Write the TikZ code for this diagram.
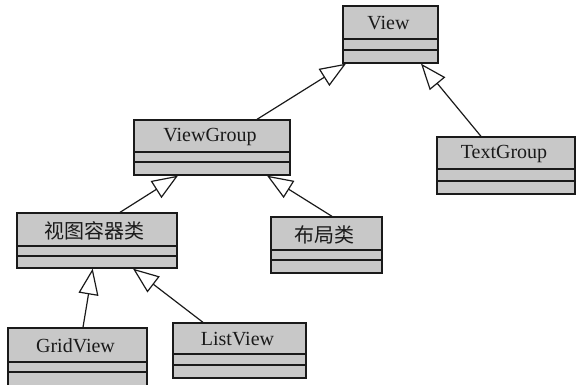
\documentclass[tikz,border=0pt]{standalone}
\usepackage{fontspec}
\setmainfont{Liberation Serif}
\newfontfamily\cjk{Noto Sans CJK SC}
\usetikzlibrary{arrows.meta,fit}
\definecolor{boxgray}{HTML}{C8C8C8}
\definecolor{ink}{HTML}{1A1A1A}
\tikzset{
  clsbox/.style={draw=ink, fill=boxgray, line width=1.3pt, inner sep=0pt, rectangle},
  sepline/.style={draw=ink, line width=1.3pt},
  clstitle/.style={font=\fontsize{20}{23}\selectfont, text=ink, inner sep=0pt},
  inherit/.style={draw=ink, line width=1.2pt, -{Triangle[open, length=26pt, width=20pt, line width=1.2pt]}}
}
% name, x1, y1, x2, y2, ya, yb, text
\newcommand{\umlcls}[8]{%
  \node[clsbox, fit={(#2,#3) (#4,#5)}] (#1) {};
  \node[clstitle] (#1-t) at ({(#2+#4)/2-2},{(#3+#6)/2+1}) {#8};
  \draw[sepline] (#2,#6) -- (#4,#6);
  \draw[sepline] (#2,#7) -- (#4,#7);
}
\begin{document}
\begin{tikzpicture}[x=1pt,y=-1pt]
\useasboundingbox (0,0) rectangle (576,384);
\umlcls{view}{343}{6}{438}{63}{39}{50}{View}
\umlcls{viewgroup}{134}{120}{290}{175}{152}{162}{ViewGroup}
\umlcls{textgroup}{437}{137}{575}{194}{169}{181}{TextGroup}
\umlcls{container}{17}{213}{177}{268}{246}{256}{\cjk 视图容器类}
\umlcls{layout}{271}{217}{382}{273}{250}{260}{\cjk 布局类}
\umlcls{gridview}{8}{328}{147}{388}{362}{372}{GridView}
\umlcls{listview}{173}{323}{306}{378}{354}{365}{ListView}
\draw[inherit] ([xshift=45pt]viewgroup.north) -- ([xshift=-44.5pt]view.south);
\draw[inherit] ([xshift=-25pt]textgroup.north) -- ([xshift=30.5pt]view.south);
\draw[inherit] ([xshift=23pt]container.north) -- ([xshift=-34pt]viewgroup.south);
\draw[inherit] ([xshift=5.5pt]layout.north) -- ([xshift=55pt]viewgroup.south);
\draw[inherit] ([xshift=5.5pt]gridview.north) -- ([xshift=-4.3pt]container.south);
\draw[inherit] ([xshift=-36.5pt]listview.north) -- ([xshift=36pt]container.south);
\end{tikzpicture}
\end{document}
